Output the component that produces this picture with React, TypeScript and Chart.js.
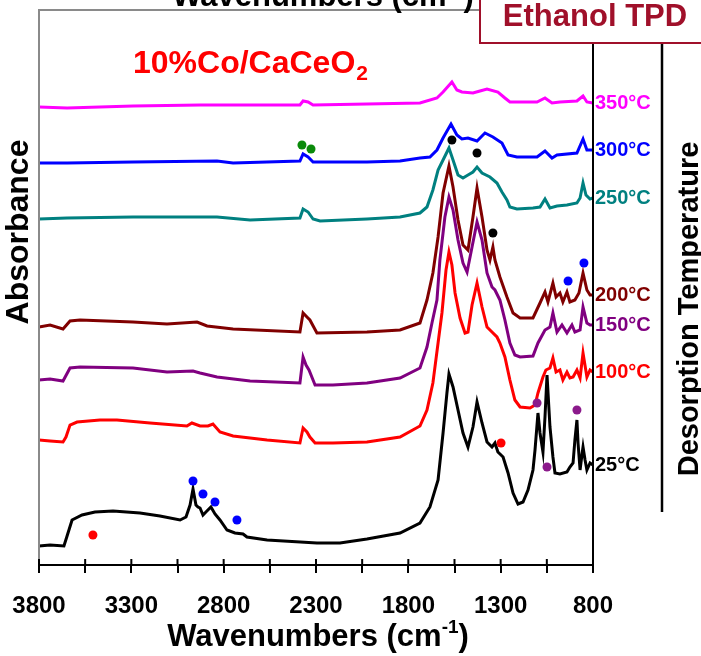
import React, { useEffect, useRef } from 'react';
import { Chart, registerables } from 'chart.js';

Chart.register(...registerables);

const FONT = '"Liberation Sans", Arial, Helvetica, sans-serif';

// X axis (wavenumbers, reversed)
const X_MIN = 800;
const X_MAX = 3800;
const X_STEP = 250;
const X_LABEL_STEP = 500;

// Spectra (stacked absorbance, a.u.)
const wn25 = [3800,3740,3665,3648,3621,3567,3497,3399,3253,3145,3036,3004,2982,2966,2950,2939,2928,2912,2896,2869,2847,2820,2782,2739,2695,2674,2565,2295,2170,2024,1845,1737,1683,1639,1612,1591,1580,1558,1531,1504,1477,1450,1428,1401,1374,1347,1331,1315,1287,1260,1233,1206,1179,1152,1125,1114,1098,1087,1071,1060,1049,1033,1017,1006,979,941,925,908,898,887,881,870,860,854,843,833,816,800];
const abs25 = [0.19,0.20,0.19,0.29,0.45,0.50,0.53,0.54,0.52,0.49,0.45,0.48,0.60,0.76,0.60,0.58,0.57,0.50,0.53,0.58,0.51,0.45,0.35,0.32,0.31,0.28,0.25,0.22,0.22,0.26,0.32,0.42,0.58,0.85,1.32,1.72,1.91,1.78,1.55,1.32,1.18,1.38,1.63,1.42,1.23,1.18,1.22,1.13,1.08,0.92,0.72,0.61,0.63,0.75,0.95,1.15,1.52,1.32,1.13,1.48,1.90,1.38,1.08,0.92,0.91,0.93,0.98,1.02,1.25,1.45,1.22,0.95,1.10,1.18,1.05,0.95,1.02,1.00];

const wn100 = [3800,3740,3670,3654,3632,3594,3470,3378,3199,2999,2972,2928,2885,2858,2820,2749,2565,2387,2370,2349,2333,2305,2208,2024,1845,1737,1699,1667,1639,1618,1596,1580,1564,1547,1520,1493,1477,1455,1428,1401,1374,1358,1320,1304,1277,1250,1223,1195,1141,1114,1098,1071,1055,1033,1017,1000,979,963,941,925,908,887,870,854,833,816,800];
const abs100 = [1.25,1.24,1.23,1.28,1.40,1.43,1.45,1.45,1.42,1.39,1.42,1.39,1.39,1.41,1.33,1.29,1.25,1.22,1.37,1.33,1.28,1.22,1.22,1.23,1.28,1.39,1.55,1.82,2.22,2.52,2.95,3.13,3.00,2.72,2.47,2.32,2.33,2.60,2.82,2.58,2.38,2.35,2.28,2.22,2.08,1.85,1.65,1.58,1.57,1.60,1.72,1.88,1.95,1.97,2.07,1.93,1.95,1.85,1.93,1.87,1.88,1.95,1.87,2.12,1.88,1.95,1.93];

const wn150 = [3800,3740,3670,3632,3578,3291,3107,2966,2928,2836,2657,2387,2370,2354,2338,2305,2208,2024,1845,1737,1699,1672,1645,1629,1602,1580,1558,1531,1504,1482,1455,1428,1401,1374,1347,1331,1304,1277,1250,1223,1195,1125,1098,1060,1033,1017,995,968,941,914,898,870,854,833,816,800];
const abs150 = [1.85,1.86,1.84,1.97,1.98,1.97,1.93,1.94,1.92,1.88,1.84,1.82,2.08,2.00,1.95,1.80,1.80,1.82,1.87,1.97,2.18,2.42,2.65,3.05,3.48,3.68,3.55,3.25,3.02,2.93,3.18,3.43,3.25,2.92,2.78,2.75,2.65,2.45,2.22,2.10,2.08,2.09,2.22,2.35,2.38,2.52,2.33,2.40,2.32,2.40,2.33,2.35,2.58,2.42,2.40,2.40];

const wn200 = [3800,3740,3670,3632,3578,3291,3107,2944,2890,2749,2387,2370,2349,2333,2295,2024,1845,1737,1699,1667,1639,1612,1580,1558,1531,1504,1477,1450,1428,1401,1374,1358,1342,1331,1304,1266,1233,1195,1125,1087,1060,1044,1017,1000,979,963,941,925,898,876,854,833,816,800];
const abs200 = [2.38,2.40,2.36,2.44,2.45,2.43,2.41,2.43,2.39,2.36,2.33,2.52,2.48,2.45,2.32,2.33,2.35,2.42,2.65,2.92,3.28,3.72,3.99,3.78,3.45,3.20,3.15,3.48,3.77,3.48,3.15,3.05,3.18,3.05,2.88,2.68,2.52,2.47,2.47,2.62,2.73,2.63,2.82,2.68,2.72,2.63,2.73,2.63,2.65,2.72,2.92,2.75,2.70,2.70];

const wn250 = [3800,3648,3291,2836,2657,2387,2370,2343,2316,2278,2024,1845,1737,1699,1667,1639,1612,1580,1558,1531,1504,1477,1450,1428,1401,1358,1320,1293,1266,1250,1212,1125,1087,1060,1033,995,941,887,870,854,838,816,800];
const abs250 = [3.46,3.47,3.48,3.48,3.45,3.47,3.56,3.53,3.46,3.44,3.46,3.48,3.52,3.58,3.75,3.95,4.05,4.17,4.05,3.90,3.87,3.90,3.93,3.98,3.92,3.88,3.82,3.73,3.65,3.58,3.56,3.57,3.58,3.66,3.57,3.59,3.60,3.62,3.67,3.82,3.70,3.66,3.67];

const wn300 = [3800,3648,3291,2836,2749,2387,2370,2343,2316,2208,2024,1845,1737,1683,1645,1612,1569,1537,1510,1477,1428,1385,1342,1293,1260,1212,1103,1060,1022,995,887,854,833,800];
const abs300 = [4.02,4.02,4.03,4.04,4.02,4.04,4.11,4.08,4.03,4.03,4.03,4.04,4.07,4.08,4.15,4.27,4.41,4.30,4.26,4.27,4.24,4.32,4.28,4.22,4.10,4.08,4.08,4.14,4.07,4.10,4.12,4.26,4.15,4.15];

const wn350 = [3800,3648,3291,2928,2387,2370,2343,2316,2024,1737,1645,1612,1564,1537,1510,1450,1412,1374,1315,1277,1250,1103,1060,1022,979,887,854,833,800];
const abs350 = [4.58,4.57,4.59,4.60,4.60,4.64,4.63,4.60,4.61,4.62,4.67,4.73,4.83,4.75,4.73,4.72,4.74,4.76,4.73,4.67,4.63,4.63,4.67,4.62,4.63,4.64,4.69,4.63,4.62];

const temps = ['25°C', '100°C', '150°C', '200°C', '250°C', '300°C', '350°C'];
const lineColors = ['#000000', '#FF0000', '#800080', '#800000', '#008080', '#0000FF', '#FF00FF'];
const spectraWn = [wn25, wn100, wn150, wn200, wn250, wn300, wn350];
const spectraAbs = [abs25, abs100, abs150, abs200, abs250, abs300, abs350];

// Band markers
const greenDotWn = [2376, 2327];
const greenDotAbs = [4.20, 4.16];
const blackDotWn = [1564, 1428, 1342];
const blackDotAbs = [4.25, 4.12, 3.32];
const blueDotWn = [2966, 2912, 2847, 2728, 935, 849];
const blueDotAbs = [0.84, 0.71, 0.63, 0.45, 2.84, 3.02];
const redDotWn = [3508, 1298];
const redDotAbs = [0.30, 1.22];
const purpleDotWn = [1103, 1049, 887];
const purpleDotAbs = [1.62, 0.98, 1.55];

const markerGroups = [
  { wn: greenDotWn, abs: greenDotAbs, color: '#0A8A0A' },
  { wn: blackDotWn, abs: blackDotAbs, color: '#000000' },
  { wn: blueDotWn, abs: blueDotAbs, color: '#0000FF' },
  { wn: redDotWn, abs: redDotAbs, color: '#FF0000' },
  { wn: purpleDotWn, abs: purpleDotAbs, color: '#8B1A8B' },
];

const zip = (xs: number[], ys: number[]) => {
  const n = Math.min(xs.length, ys.length);
  const out: { x: number; y: number }[] = [];
  for (let i = 0; i < n; i++) out.push({ x: xs[i], y: ys[i] });
  return out;
};

function drawWaveTitle(ctx: CanvasRenderingContext2D, cx: number, baseline: number, size: number) {
  const supSize = Math.round(size * 0.6);
  const a = 'Wavenumbers (cm';
  const sup = '-1';
  const b = ')';
  ctx.font = `bold ${size}px ${FONT}`;
  const wa = ctx.measureText(a).width;
  const wb = ctx.measureText(b).width;
  ctx.font = `bold ${supSize}px ${FONT}`;
  const ws = ctx.measureText(sup).width;
  const x0 = cx - (wa + ws + wb) / 2;
  ctx.textAlign = 'left';
  ctx.textBaseline = 'alphabetic';
  ctx.font = `bold ${size}px ${FONT}`;
  ctx.fillText(a, x0, baseline);
  ctx.font = `bold ${supSize}px ${FONT}`;
  ctx.fillText(sup, x0 + wa, baseline - size * 0.42);
  ctx.font = `bold ${size}px ${FONT}`;
  ctx.fillText(b, x0 + wa + ws, baseline);
}

const decorPlugin = {
  id: 'decor',
  afterDraw(chart: any) {
    const { ctx, chartArea: ca, scales } = chart;
    const xs = scales.x;
    const ys = scales.y;
    ctx.save();

    // gray frame (left + top)
    ctx.strokeStyle = '#8a8a8a';
    ctx.lineWidth = 2;
    ctx.beginPath();
    ctx.moveTo(ca.left, ca.bottom);
    ctx.lineTo(ca.left, ca.top);
    ctx.lineTo(ca.right, ca.top);
    ctx.stroke();

    // right black line of plot
    ctx.strokeStyle = '#000';
    ctx.lineWidth = 2;
    ctx.beginPath();
    ctx.moveTo(ca.right, 43);
    ctx.lineTo(ca.right, ca.bottom);
    ctx.stroke();

    // upward halves of tick marks
    ctx.beginPath();
    xs.ticks.forEach((t: any) => {
      const px = xs.getPixelForValue(t.value);
      ctx.moveTo(px, ca.bottom - 6);
      ctx.lineTo(px, ca.bottom);
    });
    ctx.stroke();

    // desorption temperature line
    ctx.lineWidth = 2.5;
    ctx.beginPath();
    ctx.moveTo(662, 43);
    ctx.lineTo(662, 512);
    ctx.stroke();

    // temperature labels at end of each spectrum
    ctx.font = `bold 20px ${FONT}`;
    ctx.textAlign = 'left';
    ctx.textBaseline = 'middle';
    spectraAbs.forEach((arr, i) => {
      const py = ys.getPixelForValue(arr[arr.length - 1]);
      ctx.fillStyle = lineColors[i];
      ctx.fillText(temps[i], xs.getPixelForValue(X_MIN) + 2, py);
    });

    // bottom axis title
    ctx.fillStyle = '#000';
    drawWaveTitle(ctx, (ca.left + ca.right) / 2 + 2, 646, 31);
    // cut-off duplicate title at top
    drawWaveTitle(ctx, 323, 6, 31);

    // Absorbance
    ctx.save();
    ctx.translate(28, 232);
    ctx.rotate(-Math.PI / 2);
    ctx.font = `bold 32px ${FONT}`;
    ctx.textAlign = 'center';
    ctx.textBaseline = 'alphabetic';
    ctx.fillText('Absorbance', 0, 0);
    ctx.restore();

    // Desorption Temperature
    ctx.save();
    ctx.translate(698, 309);
    ctx.rotate(-Math.PI / 2);
    ctx.font = `bold 29px ${FONT}`;
    ctx.textAlign = 'center';
    ctx.textBaseline = 'alphabetic';
    ctx.fillText('Desorption Temperature', 0, 0);
    ctx.restore();

    // sample name
    ctx.fillStyle = '#FF0000';
    ctx.textAlign = 'left';
    ctx.textBaseline = 'alphabetic';
    ctx.font = `bold 32px ${FONT}`;
    const main = '10%Co/CaCeO';
    ctx.fillText(main, 133, 73);
    const mw = ctx.measureText(main).width;
    ctx.font = `bold 21px ${FONT}`;
    ctx.fillText('2', 133 + mw + 1, 80);

    // Ethanol TPD box
    ctx.fillStyle = '#fff';
    ctx.fillRect(480, -5, 240, 48);
    ctx.strokeStyle = '#A0102A';
    ctx.lineWidth = 2;
    ctx.strokeRect(480, -5, 240, 48);
    ctx.fillStyle = '#A0102A';
    ctx.font = `bold 31px ${FONT}`;
    ctx.textAlign = 'center';
    ctx.textBaseline = 'middle';
    ctx.fillText('Ethanol TPD', 595, 17);

    ctx.restore();
  },
};

export default function App() {
  const canvasRef = useRef<HTMLCanvasElement | null>(null);

  useEffect(() => {
    document.body.style.margin = '0';
    const canvas = canvasRef.current;
    if (!canvas) return;

    const markerSets = markerGroups.map((g) => ({
      data: zip(g.wn, g.abs),
      showLine: false,
      pointRadius: 4.5,
      pointHoverRadius: 4.5,
      pointBackgroundColor: g.color,
      pointBorderColor: g.color,
      pointBorderWidth: 0,
      borderColor: g.color,
      backgroundColor: g.color,
    }));

    const lineSets = spectraWn.map((w, i) => ({
      data: zip(w, spectraAbs[i]),
      showLine: true,
      borderColor: lineColors[i],
      backgroundColor: lineColors[i],
      borderWidth: 3,
      pointRadius: 0,
      tension: 0,
      fill: false,
    }));

    const chart = new Chart(canvas, {
      type: 'scatter',
      data: { datasets: [...markerSets, ...lineSets] as any },
      options: {
        animation: false,
        responsive: false,
        maintainAspectRatio: false,
        events: [],
        layout: { padding: { left: 39, right: 108, top: 10, bottom: 0 } },
        plugins: {
          legend: { display: false },
          tooltip: { enabled: false },
          title: { display: false },
        },
        scales: {
          x: {
            type: 'linear',
            position: 'bottom',
            min: X_MIN,
            max: X_MAX,
            reverse: true,
            afterFit: (s: any) => {
              s.height = 91;
              s.paddingLeft = 0;
              s.paddingRight = 0;
            },
            border: { display: true, color: '#000', width: 2 },
            grid: {
              display: true,
              drawOnChartArea: false,
              drawTicks: true,
              tickLength: 8,
              color: '#000',
              lineWidth: 2,
            },
            ticks: {
              stepSize: X_STEP,
              autoSkip: false,
              maxRotation: 0,
              minRotation: 0,
              padding: 19,
              color: '#000',
              font: { family: FONT, size: 24, weight: 'bold' },
              callback: (v: any) => (Number(v) % X_LABEL_STEP === X_MIN % X_LABEL_STEP ? String(v) : ''),
            },
          },
          y: {
            type: 'linear',
            display: false,
            min: 0,
            max: 5.55,
          },
        },
      } as any,
      plugins: [decorPlugin],
    });

    return () => chart.destroy();
  }, []);

  return (
    <div style={{ position: 'fixed', left: 0, top: 0, width: 701, height: 656, background: '#fff' }}>
      <canvas ref={canvasRef} width={701} height={656} style={{ width: 701, height: 656, display: 'block' }} />
    </div>
  );
}
